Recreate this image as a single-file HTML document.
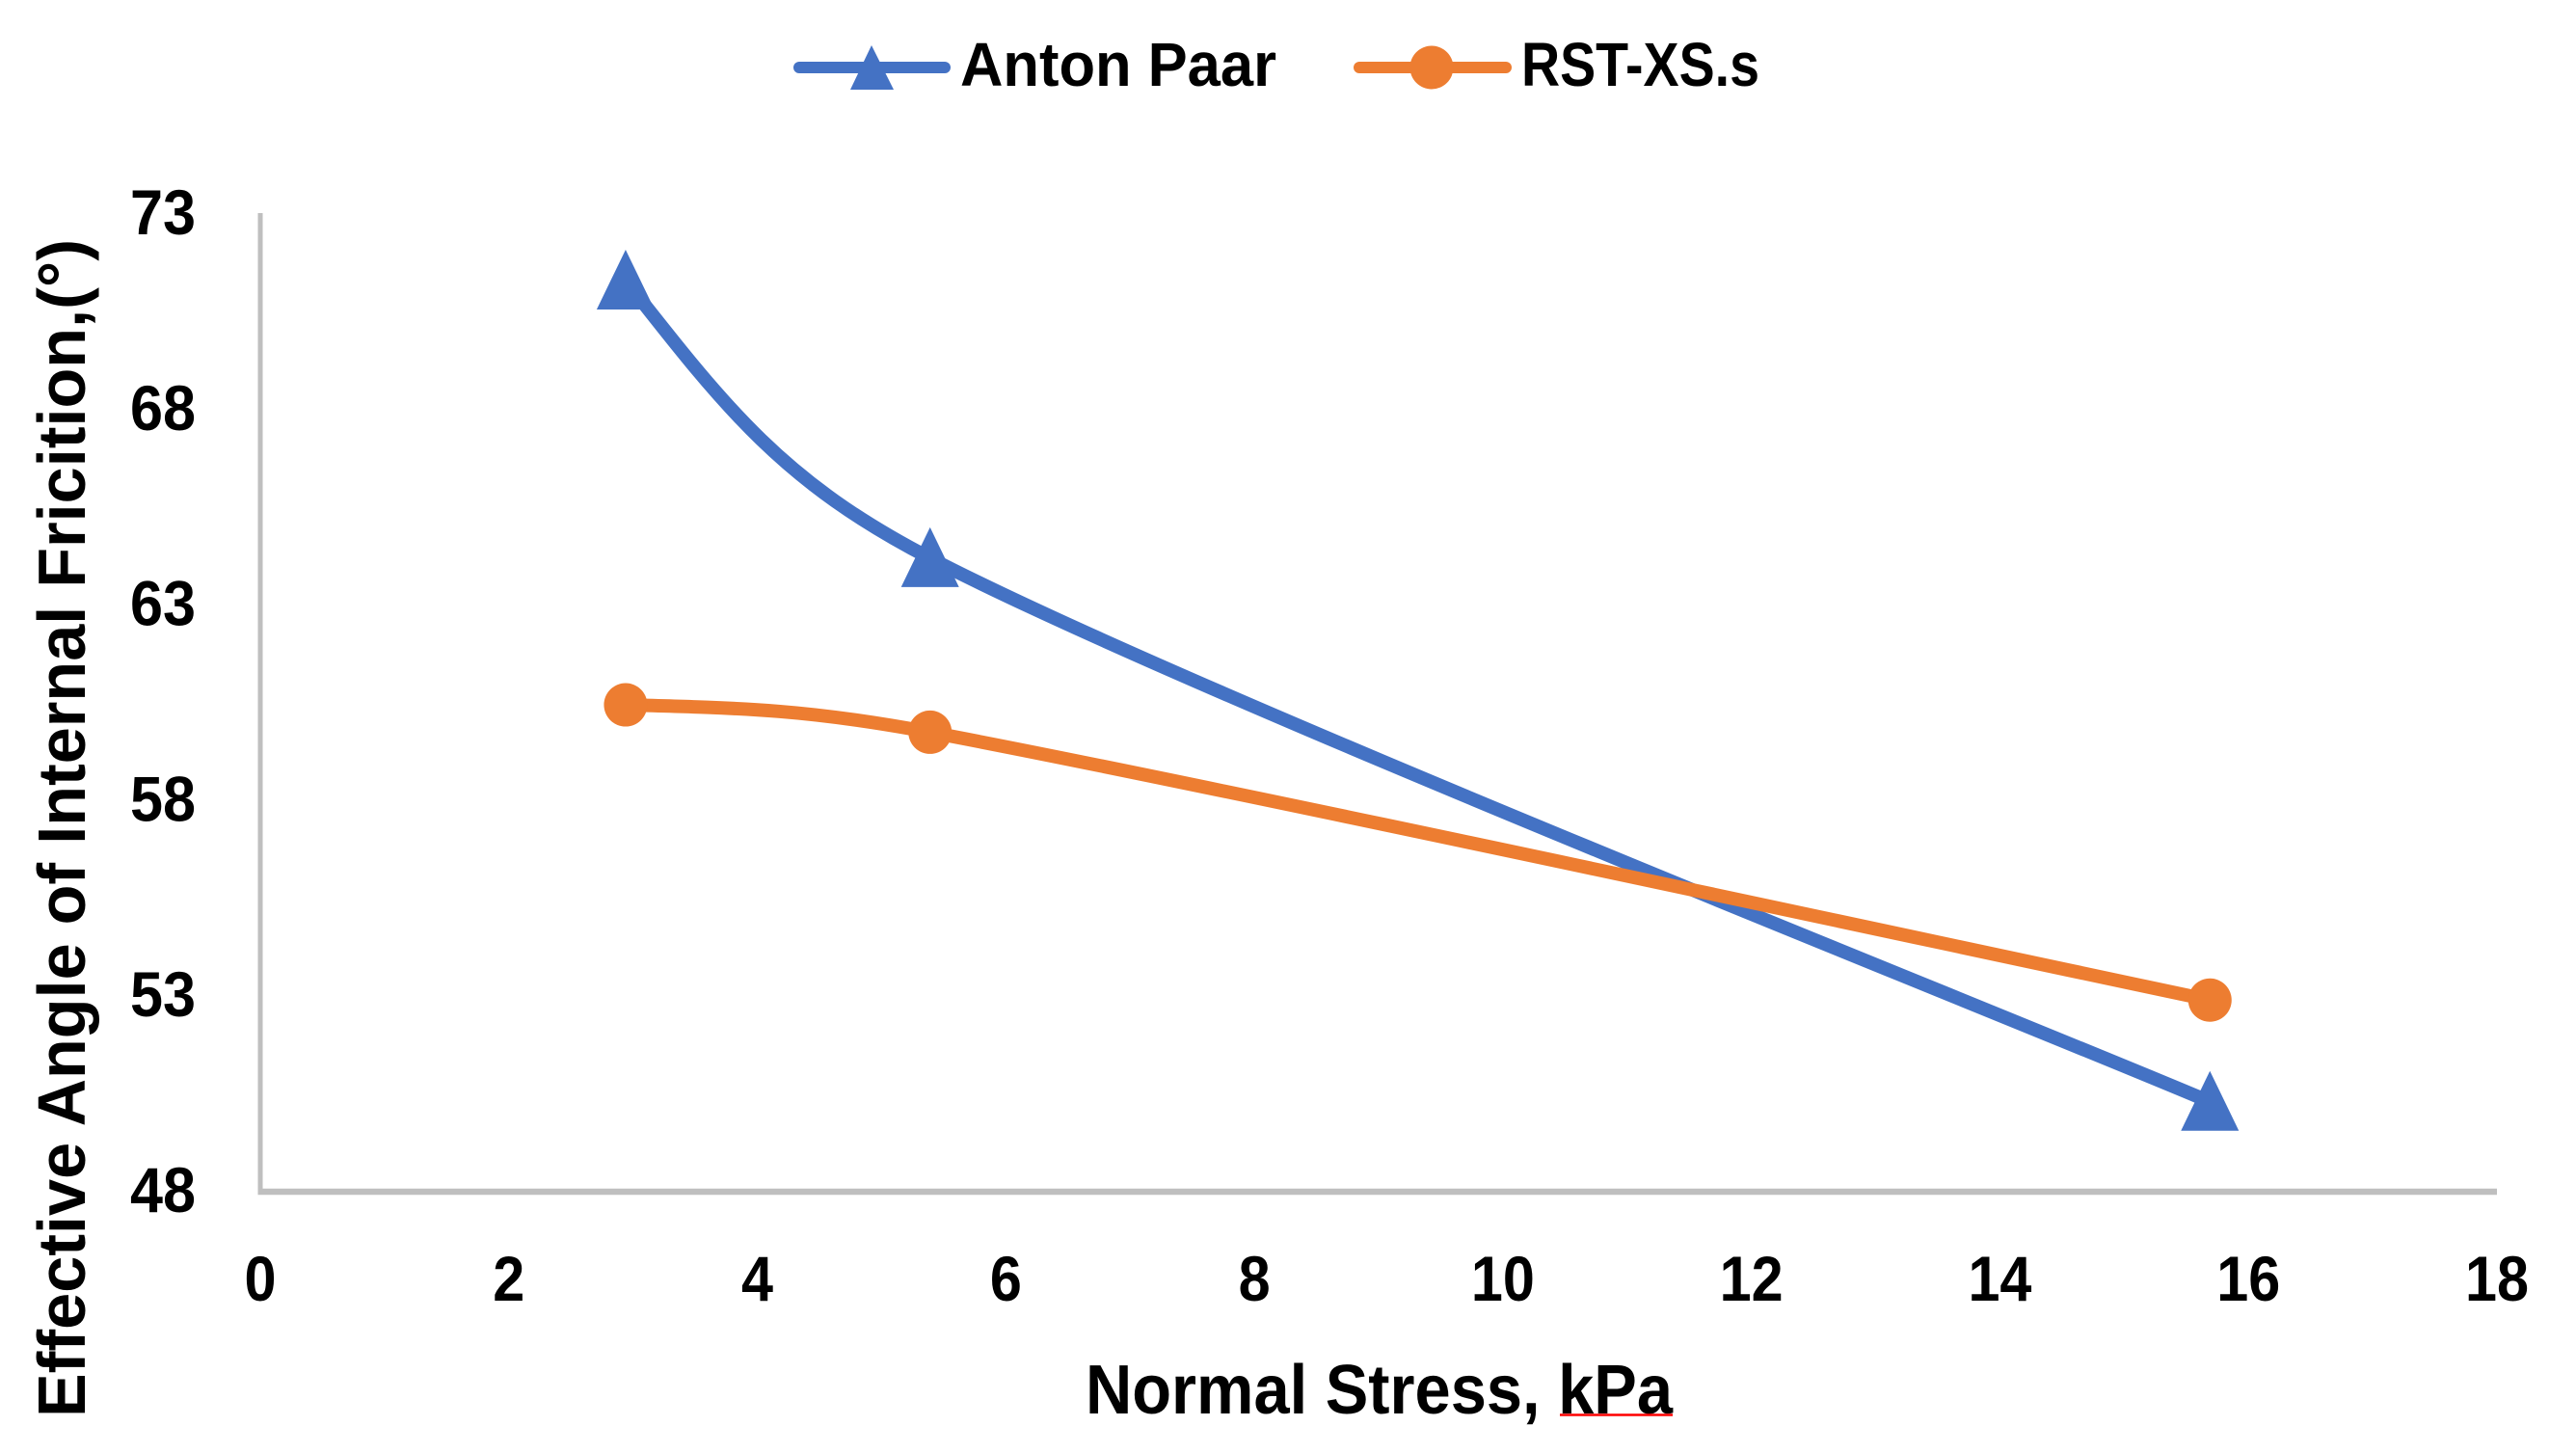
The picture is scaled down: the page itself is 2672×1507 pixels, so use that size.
<!DOCTYPE html>
<html lang="en">
<head>
<meta charset="utf-8">
<title>Effective Angle of Internal Friction vs Normal Stress</title>
<style>
html,body{margin:0;padding:0;background:#fff;width:2672px;height:1507px;overflow:hidden}
svg{display:block}
text{font-family:"Liberation Sans",sans-serif;font-weight:700;fill:#000}
</style>
</head>
<body>
<svg id="chart" xmlns="http://www.w3.org/2000/svg" width="2672" height="1507" viewBox="0 0 2672 1507">
  <rect x="0" y="0" width="2672" height="1507" fill="#ffffff"/>
  <g id="axes"></g>
  <g id="series"></g>
  <g>
    <g>
      <line x1="829" y1="70" x2="980" y2="70" stroke="#4472C4" stroke-width="12" stroke-linecap="round"/>
      <path d="M904 47 L927 93 L882 93 Z" fill="#4472C4"/>
      <text x="996" y="89" font-size="64" textLength="328" lengthAdjust="spacingAndGlyphs">Anton Paar</text>
    </g>
    <g>
      <line x1="1410" y1="70" x2="1562" y2="70" stroke="#ED7D31" stroke-width="12" stroke-linecap="round"/>
      <circle cx="1485" cy="70" r="22.5" fill="#ED7D31"/>
      <text x="1578" y="89" font-size="64" textLength="247" lengthAdjust="spacingAndGlyphs">RST-XS.s</text>
    </g>
  </g>
  <text transform="translate(88,1470) rotate(-90)" x="0" y="0" font-size="70" textLength="1222" lengthAdjust="spacingAndGlyphs">Effective Angle of Internal Fricition,(°)</text>
  <text x="1126" y="1466" font-size="72" textLength="609" lengthAdjust="spacingAndGlyphs">Normal Stress, kPa</text>
  <line x1="1618" y1="1467.5" x2="1735" y2="1467.5" stroke="#ff0000" stroke-width="2.5"/>
</svg>
<script>
const xTickLabels = [0, 2, 4, 6, 8, 10, 12, 14, 16, 18];
const yTickLabels = [48, 53, 58, 63, 68, 73];
const stressValues = [2.94, 5.39, 15.69];
const antonPaarValues = [71.3, 64.2, 50.3];
const rstValues = [60.45, 59.75, 52.9];

const NS = 'http://www.w3.org/2000/svg';
const plot = { left: 270, right: 2590, top: 222, bottom: 1236, xMin: 0, xMax: 18, yMin: 48, yMax: 73 };

function xScale(v) {
  return plot.left + (v - plot.xMin) / (plot.xMax - plot.xMin) * (plot.right - plot.left);
}
function yScale(v) {
  return plot.bottom - (v - plot.yMin) / (plot.yMax - plot.yMin) * (plot.bottom - plot.top);
}
function make(tag, attrs, parent) {
  const el = document.createElementNS(NS, tag);
  for (const k in attrs) el.setAttribute(k, attrs[k]);
  parent.appendChild(el);
  return el;
}
function dist(a, b) {
  return Math.hypot(b[0] - a[0], b[1] - a[1]);
}
function handle(from, toward, len) {
  const d = dist(from, toward) || 1;
  return [from[0] + (toward[0] - from[0]) / d * len, from[1] + (toward[1] - from[1]) / d * len];
}
function smoothPath(pts) {
  const n = pts.length;
  const inH = new Array(n);
  const outH = new Array(n);
  for (let i = 1; i < n - 1; i++) {
    const prev = pts[i - 1];
    const cur = pts[i];
    const next = pts[i + 1];
    const span = dist(prev, next);
    const ux = (next[0] - prev[0]) / span;
    const uy = (next[1] - prev[1]) / span;
    const hIn = Math.min(span / 6, 0.4 * dist(prev, cur));
    const hOut = Math.min(span / 6, 0.4 * dist(cur, next));
    inH[i] = [cur[0] - ux * hIn, cur[1] - uy * hIn];
    outH[i] = [cur[0] + ux * hOut, cur[1] + uy * hOut];
  }
  outH[0] = handle(pts[0], n > 2 ? inH[1] : pts[1], 0.4 * dist(pts[0], pts[1]));
  inH[n - 1] = handle(pts[n - 1], pts[n - 2], dist(pts[n - 2], pts[n - 1]) / 6);
  let d = 'M' + pts[0][0] + ' ' + pts[0][1];
  for (let i = 0; i < n - 1; i++) {
    d += ' C' + outH[i][0] + ' ' + outH[i][1] + ' ' + inH[i + 1][0] + ' ' + inH[i + 1][1] + ' ' + pts[i + 1][0] + ' ' + pts[i + 1][1];
  }
  return d;
}

const axes = document.getElementById('axes');
const series = document.getElementById('series');

const yAxisLine = make('line', { x1: plot.left, y1: plot.top - 1, x2: plot.left, y2: plot.bottom + 3, stroke: '#BFBFBF', 'stroke-width': 5 }, axes);



const xAxisLine = make('line', { x1: plot.left - 2.5, y1: plot.bottom, x2: plot.right, y2: plot.bottom, stroke: '#BFBFBF', 'stroke-width': 6.5 }, axes);



xTickLabels.forEach(function (v) {
  const s = String(v);
  const w = s.length * 33;
  const t = make('text', { x: xScale(v) - w / 2, y: 1349, 'font-size': 66, textLength: w, lengthAdjust: 'spacingAndGlyphs' }, axes);
  t.textContent = s;
  
  
});

yTickLabels.forEach(function (v) {
  const t = make('text', { x: 135, y: yScale(v) + 21, 'font-size': 66, textLength: 68, lengthAdjust: 'spacingAndGlyphs' }, axes);
  t.textContent = String(v);
  
  
});

const bluePts = stressValues.map(function (x, i) { return [xScale(x), yScale(antonPaarValues[i])]; });
const orangePts = stressValues.map(function (x, i) { return [xScale(x), yScale(rstValues[i])]; });

const blueLine = make('path', { d: smoothPath(bluePts), fill: 'none', stroke: '#4472C4', 'stroke-width': 14, 'stroke-linecap': 'round' }, series);



bluePts.forEach(function (p) {
  const m = make('path', { d: 'M' + p[0] + ' ' + (p[1] - 32) + ' L' + (p[0] + 30) + ' ' + (p[1] + 30) + ' L' + (p[0] - 30) + ' ' + (p[1] + 30) + ' Z', fill: '#4472C4' }, series);
  
  
});

const orangeLine = make('path', { d: smoothPath(orangePts), fill: 'none', stroke: '#ED7D31', 'stroke-width': 14, 'stroke-linecap': 'round' }, series);



orangePts.forEach(function (p) {
  const m = make('circle', { cx: p[0], cy: p[1], r: 22.5, fill: '#ED7D31' }, series);
  
  
});
</script>
</body>
</html>
